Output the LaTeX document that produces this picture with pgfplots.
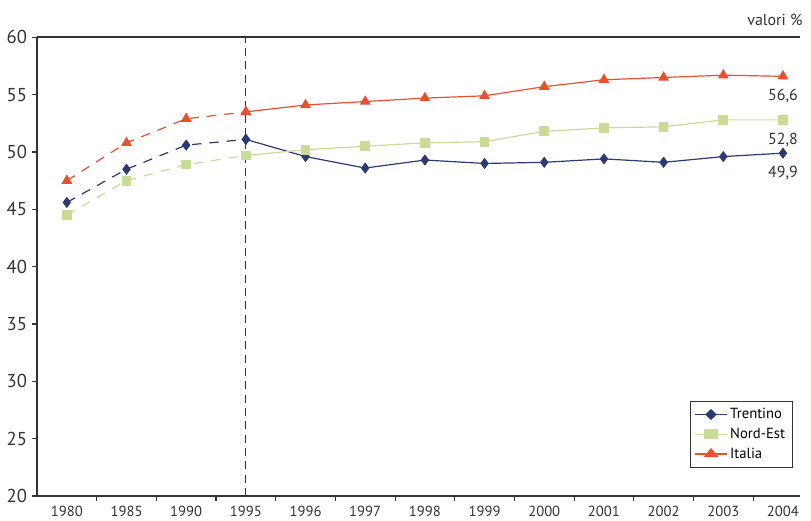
\documentclass[border=0pt]{standalone}
\usepackage{pgfplots}
\pgfplotsset{compat=1.18}
\usepackage{fontspec}
\setmainfont{PT Sans}
\definecolor{tr}{HTML}{2B3A73}
\definecolor{ne}{HTML}{C8DC96}
\definecolor{it}{HTML}{E8502F}
\definecolor{ax}{HTML}{333333}
\begin{document}
\begin{tikzpicture}
\useasboundingbox (-27.75pt,-18.75pt) rectangle (580.5pt,372pt);
\begin{axis}[scale only axis, width=572pt, height=344pt,
 xmin=-0.5, xmax=12.28, ymin=20, ymax=60,
 axis x line*=bottom, axis y line*=left,
 axis line style={ax, line width=1.5pt, -},
 xtick={0,...,12}, xticklabels={1980,1985,1990,1995,1996,1997,1998,1999,2000,2001,2002,2003,2004},
 major x tick style={draw=none},
 minor xtick={0.5,1.5,...,11.5}, minor x tick style={ax, line width=0.8pt},
 minor tick length=4pt,
 ytick={20,25,...,60}, tick align=outside, major tick length=4pt,
 y tick style={ax, line width=0.8pt},
 yticklabel style={font=\fontsize{14}{16}\selectfont, text=ax},
 xticklabel style={font=\fontsize{11}{12}\selectfont, text=ax},
 /pgf/number format/assume math mode=true,
 clip=false,
 legend style={at={(0.99,0.063)}, anchor=south east, draw=ax, font=\fontsize{11}{12}\selectfont, row sep=1.5pt, inner sep=3pt},
 legend image post style={xscale=1.4},
 legend cell align=left,
]
\draw[ax, line width=1.5pt] (rel axis cs:0,1) -- (rel axis cs:1,1);
\draw[ax, dashed, dash pattern=on 6pt off 4pt, line width=0.8pt] (axis cs:3,20) -- (axis cs:3,60);
\addplot[tr, line width=0.9pt, mark=diamond*, mark size=3.5pt] coordinates {(3,51.1)(4,49.6)(5,48.6)(6,49.3)(7,49.0)(8,49.1)(9,49.4)(10,49.1)(11,49.6)(12,49.9)};
\addlegendentry{Trentino}
\addplot[ne, line width=0.9pt, mark=square*, mark size=3.2pt] coordinates {(3,49.7)(4,50.2)(5,50.5)(6,50.8)(7,50.9)(8,51.8)(9,52.1)(10,52.2)(11,52.8)(12,52.8)};
\addlegendentry{Nord-Est}
\addplot[it, line width=0.9pt, mark=triangle*, mark size=3.8pt] coordinates {(3,53.5)(4,54.1)(5,54.4)(6,54.7)(7,54.9)(8,55.7)(9,56.3)(10,56.5)(11,56.7)(12,56.6)};
\addlegendentry{Italia}
\addplot[tr, line width=0.9pt, dash pattern=on 7pt off 6pt, mark=diamond*, mark size=3.5pt, mark options={solid}, forget plot] coordinates {(0,45.6)(1,48.5)(2,50.6)(3,51.1)};
\addplot[ne, line width=0.9pt, dash pattern=on 7pt off 6pt, mark=square*, mark size=3.2pt, mark options={solid}, forget plot] coordinates {(0,44.5)(1,47.5)(2,48.9)(3,49.7)};
\addplot[it, line width=0.9pt, dash pattern=on 7pt off 6pt, mark=triangle*, mark size=3.8pt, mark options={solid}, forget plot] coordinates {(0,47.5)(1,50.8)(2,52.9)(3,53.5)};
\node[font=\fontsize{12}{14}\selectfont, text=ax, anchor=north] at (axis cs:12,55.9) {56,6};
\node[font=\fontsize{12}{14}\selectfont, text=ax, anchor=north] at (axis cs:12,52.1) {52,8};
\node[font=\fontsize{12}{14}\selectfont, text=ax, anchor=north] at (axis cs:12,49.2) {49,9};
\node[font=\fontsize{12}{14}\selectfont, text=ax, anchor=south east] at ([yshift=5pt]rel axis cs:1.01,1) {valori \%};
\end{axis}
\end{tikzpicture}
\end{document}
